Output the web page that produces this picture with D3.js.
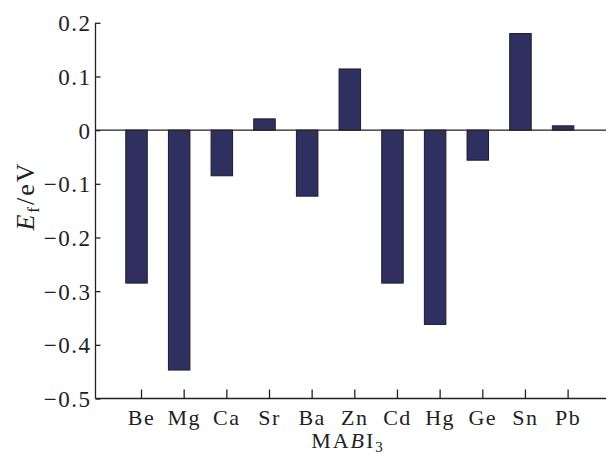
<!DOCTYPE html>
<html><head><meta charset="utf-8">
<script src="https://cdn.jsdelivr.net/npm/d3@7"></script>
<style>
html,body{margin:0;padding:0;background:#fff;}
svg text{font-family:"Liberation Serif","Times New Roman",serif;fill:#222;}
</style></head>
<body><svg id="c" width="608" height="454"></svg>
<script>
const categories = ["Be","Mg","Ca","Sr","Ba","Zn","Cd","Hg","Ge","Sn","Pb"];
const values = [-0.285,-0.447,-0.085,0.021,-0.123,0.114,-0.285,-0.362,-0.056,0.180,0.008];
const yTicks = [0.2,0.1,0,-0.1,-0.2,-0.3,-0.4,-0.5];

(function(){
const svg = d3.select("#c");
const pL = 95.5, pR = 606, pT = 22.8, pB = 398.5;
const x = d3.scaleLinear().domain([-1.067, 10.9]).range([pL, pR]);
const y = d3.scaleLinear().domain([-0.5, 0.2]).range([pB, pT]);
const barW = 21.5, barShift = -4.5;
const FF = '"Liberation Serif",serif';

svg.append("g").selectAll("rect").data(values).join("rect")
  .attr("x", (d,i) => x(i) + barShift - barW/2)
  .attr("y", d => y(Math.max(0,d)))
  .attr("width", barW)
  .attr("height", d => Math.abs(y(d) - y(0)))
  .attr("fill", "#2f3060")
  .attr("stroke", "#1c1c2a")
  .attr("stroke-width", 1);

svg.append("line").attr("x1", pL).attr("x2", pR)
  .attr("y1", y(0)).attr("y2", y(0))
  .attr("stroke", "#222").attr("stroke-width", 1.3);

const fmt = v => v === 0 ? "0" : (v < 0 ? "\u2212" + Math.abs(v).toFixed(1) : v.toFixed(1));
const yAxis = d3.axisLeft(y).tickValues(yTicks).tickSize(-5).tickPadding(6).tickFormat(fmt);
const gy = svg.append("g").attr("transform", `translate(${pL},0)`).call(yAxis).attr("font-family", FF);
gy.select(".domain").attr("stroke", "#222").attr("stroke-width", 1.3).attr("d", `M0,${pT}V${pB}`);
gy.selectAll(".tick line").attr("stroke", "#222").attr("stroke-width", 1.3);
gy.selectAll(".tick text").attr("font-size", 23).attr("x", -4).attr("dy", "0.35em")
  .style("font-family", FF).attr("fill", "#222").style("letter-spacing","1.5px");

const xAxis = d3.axisBottom(x).tickValues(d3.range(categories.length)).tickSize(-9).tickPadding(11)
  .tickFormat(i => categories[i]);
const gx = svg.append("g").attr("transform", `translate(0,${pB})`).call(xAxis).attr("font-family", FF);
gx.select(".domain").attr("stroke", "#222").attr("stroke-width", 1.3).attr("d", `M${pL},0H${pR}`);
gx.selectAll(".tick line").attr("stroke", "#222").attr("stroke-width", 1.3);
gx.selectAll(".tick text").attr("font-size", 22).attr("dy", "0.71em")
  .style("font-family", FF).attr("fill", "#222").style("letter-spacing","1.5px");

const xt = svg.append("text").attr("x", 348).attr("y", 448).attr("text-anchor", "middle").attr("font-size", 22)
  .style("letter-spacing","2px");
xt.append("tspan").text("MA");
xt.append("tspan").text("B").attr("font-style", "italic");
xt.append("tspan").text("I");
xt.append("tspan").text("3").attr("font-size", 15).attr("dy", 4);

const yt = svg.append("text").attr("transform", "translate(34,196) rotate(-90)")
  .attr("text-anchor", "middle").attr("font-size", 26).style("letter-spacing","2px");
yt.append("tspan").text("E").attr("font-style", "italic");
yt.append("tspan").text("f").attr("font-size", 17).attr("dy", 5);
yt.append("tspan").text("/eV").attr("dy", -5);
})();
</script></body></html>
